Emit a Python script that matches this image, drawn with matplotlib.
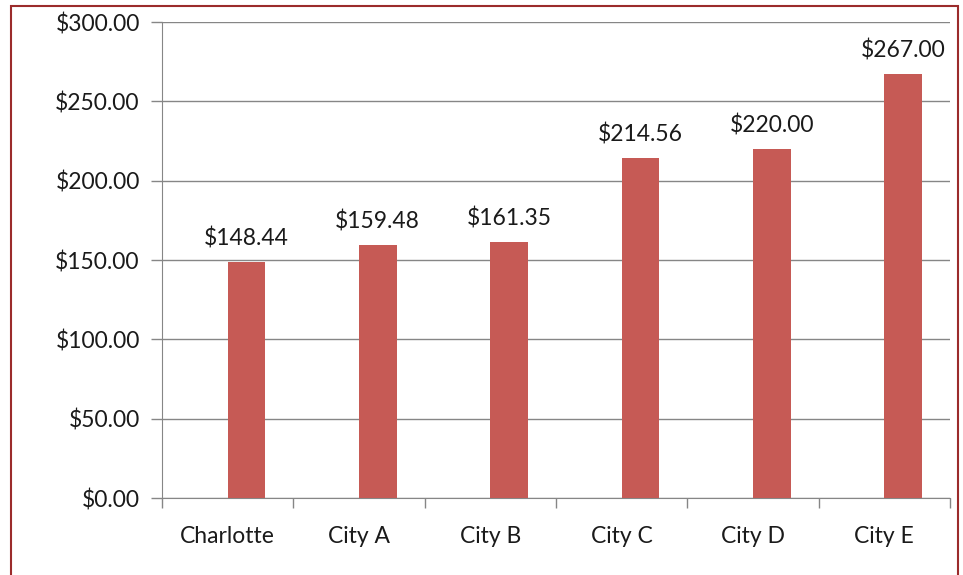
import matplotlib
matplotlib.use("Agg")
import matplotlib.pyplot as plt
from matplotlib.patches import Rectangle
import numpy as np

cities = ["Charlotte", "City A", "City B", "City C", "City D", "City E"]
prices = [148.44, 159.48, 161.35, 214.56, 220.00, 267.00]
labels = ["$148.44", "$159.48", "$161.35", "$214.56", "$220.00", "$267.00"]
yticks = [0, 50, 100, 150, 200, 250, 300]

plt.rcParams["font.family"] = ["Lato", "DejaVu Sans"]

fig = plt.figure(figsize=(9.63, 5.75), dpi=100)
ax = fig.add_axes([162 / 963, 1 - 498 / 575, (950 - 162) / 963, (498 - 22) / 575])

grey = "#868686"
txt = "#1a1a1a"
fs = 16.5
x = np.arange(len(cities))
w = 0.2857
ax.bar(x + w / 2, prices, width=w, color="#C65A55", zorder=3)

for xi, p, lab in zip(x, prices, labels):
    ax.annotate(lab, (xi + w / 2, p), xytext=(0, 9), textcoords="offset points",
                ha="center", va="bottom", fontsize=fs, color=txt)

ax.set_xlim(-0.5, len(cities) - 0.5)
ax.set_ylim(0, 300)
ax.set_yticks(yticks)
ax.set_yticklabels(["${:.2f}".format(v) for v in yticks], fontsize=fs, color=txt)
ax.yaxis.grid(True, color=grey, linewidth=1, zorder=0)
ax.tick_params(axis="y", length=8, width=1, color=grey, pad=8)

ax.set_xticks(x)
ax.set_xticklabels(cities, fontsize=fs, color=txt)
ax.tick_params(axis="x", length=0, pad=20)
ax.set_xticks(np.arange(len(cities) + 1) - 0.5, minor=True)
ax.tick_params(axis="x", which="minor", length=7, width=1, color=grey)

for s in ["top", "right"]:
    ax.spines[s].set_visible(False)
for s in ["left", "bottom"]:
    ax.spines[s].set_color(grey)

# chart frame
fig.patches.append(Rectangle((10.5 / 963, -0.01), (958 - 10.5) / 963, 1 - 5.5 / 575 + 0.01,
                             transform=fig.transFigure, fill=False,
                             edgecolor="#9B2B2B", linewidth=1.5))

fig.savefig("out.png", dpi=100)
